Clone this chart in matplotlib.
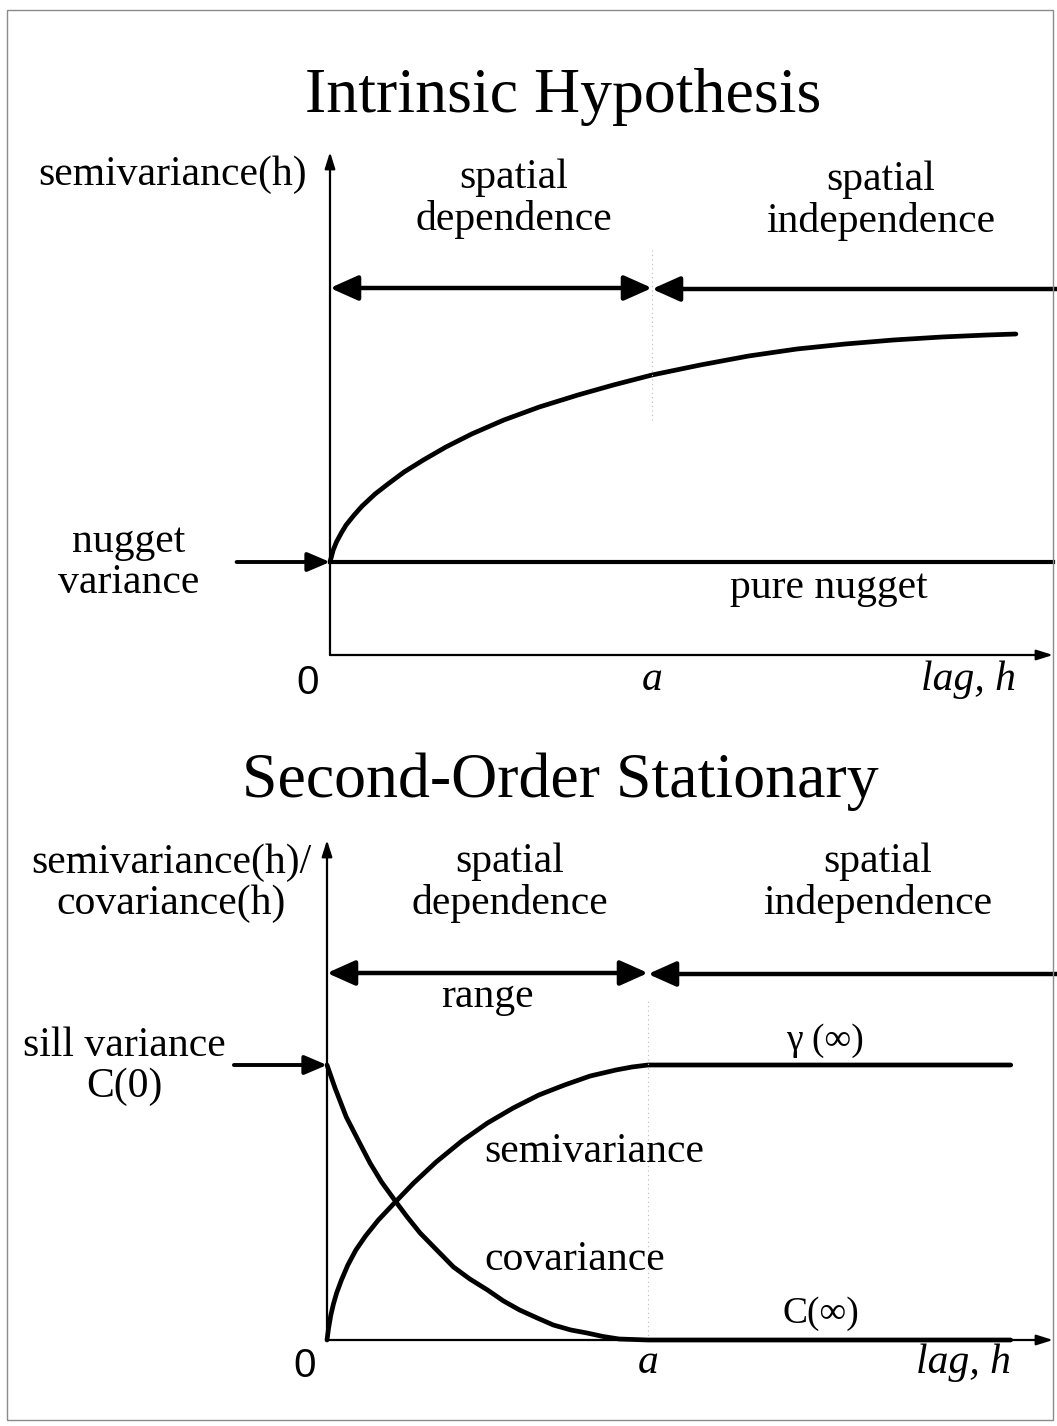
import matplotlib.pyplot as plt

# lag values (in units of the range a) and semivariance / covariance
a = 1.0
h_intrinsic = [0.0, 0.01, 0.02, 0.035, 0.05, 0.075, 0.10, 0.14, 0.18, 0.23, 0.29, 0.36,
               0.44, 0.54, 0.65, 0.77, 0.88, 1.0, 1.15, 1.30, 1.45, 1.60, 1.75, 1.90,
               2.04, 2.13]
g_intrinsic = [0.93, 1.05, 1.13, 1.22, 1.30, 1.40, 1.49, 1.61, 1.71, 1.83, 1.95, 2.08,
               2.21, 2.35, 2.48, 2.60, 2.70, 2.80, 2.90, 2.99, 3.06, 3.11, 3.15, 3.18,
               3.20, 3.21]
nugget = 0.93

h_semi = [0.0, 0.005, 0.012, 0.02, 0.03, 0.045, 0.065, 0.09, 0.12, 0.16, 0.21, 0.27,
          0.34, 0.42, 0.50, 0.58, 0.66, 0.74, 0.82, 0.90, 0.95, 1.0, 2.13]
g_semi = [0.0, 0.12, 0.25, 0.36, 0.47, 0.60, 0.75, 0.90, 1.04, 1.20, 1.37, 1.57,
          1.78, 1.99, 2.17, 2.32, 2.45, 2.55, 2.64, 2.70, 2.73, 2.75, 2.75]
h_cov = [0.0, 0.025, 0.06, 0.10, 0.134, 0.17, 0.215, 0.25, 0.29, 0.345, 0.394, 0.445,
         0.50, 0.55, 0.60, 0.655, 0.705, 0.76, 0.81, 0.86, 0.91, 1.0, 2.13]
c_cov = [2.75, 2.52, 2.23, 1.98, 1.77, 1.58, 1.38, 1.23, 1.07, 0.89, 0.73, 0.61,
         0.50, 0.39, 0.30, 0.22, 0.15, 0.10, 0.07, 0.035, 0.01, 0.0, 0.0]
sill = 2.75

W, H = 1057, 1426
serif = 'Liberation Serif'
sans = 'Liberation Sans'
fs = 30

fig = plt.figure(figsize=(W / 100, H / 100), dpi=100)


def box(left, right, bottom, top):
    return [left / W, 1 - bottom / H, (right - left) / W, (bottom - top) / H]


ax1 = fig.add_axes(box(330, 1053, 655, 152))
ax1.set_xlim(0, 723 / 322)
ax1.set_ylim(0, 5.03)
ax2 = fig.add_axes(box(327, 1053, 1340, 840))
ax2.set_xlim(0, 726 / 321)
ax2.set_ylim(0, 5.0)

big = dict(arrowstyle='<|-|>,head_length=0.85,head_width=0.38', lw=3.2, color='k',
           shrinkA=0, shrinkB=0, mutation_scale=20)
one = dict(big, arrowstyle='-|>,head_length=0.85,head_width=0.38')
side = dict(one, lw=2.8, arrowstyle='-|>,head_length=0.75,head_width=0.32', mutation_scale=18)
thin = dict(arrowstyle='-|>,head_length=0.7,head_width=0.22', lw=1.6, color='k',
            shrinkA=0, shrinkB=0, mutation_scale=14)
curve = dict(color='k', lw=3.4, solid_capstyle='round', solid_joinstyle='round', clip_on=False)

for ax in (ax1, ax2):
    ax.axis('off')
    x1, y1 = ax.get_xlim()[1], ax.get_ylim()[1]
    # axes with arrow tips
    ax.annotate('', xy=(0, y1), xytext=(0, 0), arrowprops=thin, annotation_clip=False)
    ax.annotate('', xy=(x1, 0), xytext=(0, 0), arrowprops=thin, annotation_clip=False)

# ---- Intrinsic hypothesis ----
ax1.plot(h_intrinsic, g_intrinsic, **curve)
ax1.plot([0, ax1.get_xlim()[1]], [nugget, nugget], color='k', lw=3.0, clip_on=False)
ax1.plot([a, a], [2.35, 4.05], color='#bbbbbb', lw=0.8, ls=(0, (1, 3)))
ax1.annotate('', xy=(a, 3.67), xytext=(0, 3.67), arrowprops=big, annotation_clip=False)
ax1.annotate('', xy=(a, 3.66), xytext=(2.3, 3.66), arrowprops=one, annotation_clip=False)
ax1.annotate('', xy=(0, nugget), xytext=(-0.29, nugget), arrowprops=side, annotation_clip=False)

ax1.text(-0.49, 4.80, 'semivariance(h)', family=serif, fontsize=fs, ha='center', va='center')
ax1.text(0.57, 4.56, 'spatial\ndependence', family=serif, fontsize=fs, ha='center',
         va='center', linespacing=1.1)
ax1.text(1.71, 4.54, 'spatial\nindependence', family=serif, fontsize=fs, ha='center',
         va='center', linespacing=1.1)
ax1.text(-0.625, nugget, 'nugget\nvariance', family=serif, fontsize=fs, ha='center',
         va='center', linespacing=1.1)
ax1.text(1.55, nugget - 0.26, 'pure nugget', family=serif, fontsize=fs, ha='center',
         va='center')
ax1.text(-0.07, -0.28, '0', family=sans, fontsize=29, ha='center', va='center')
ax1.text(a, -0.25, 'a', family=serif, style='italic', fontsize=fs, ha='center', va='center')
ax1.text(2.13, -0.25, 'lag, h', family=serif, style='italic', fontsize=fs, ha='right',
         va='center')

# ---- Second-order stationary ----
ax2.plot(h_semi, g_semi, **curve)
ax2.plot(h_cov, c_cov, **curve)
ax2.plot([a, a], [0, 3.4], color='#bbbbbb', lw=0.8, ls=(0, (1, 3)))
ax2.annotate('', xy=(a, 3.67), xytext=(0, 3.67), arrowprops=big, annotation_clip=False)
ax2.annotate('', xy=(a, 3.66), xytext=(2.3, 3.66), arrowprops=one, annotation_clip=False)
ax2.annotate('', xy=(0, sill), xytext=(-0.29, sill), arrowprops=side, annotation_clip=False)

ax2.text(-0.485, 4.57, 'semivariance(h)/\ncovariance(h)', family=serif, fontsize=fs,
         ha='center', va='center', linespacing=1.1)
ax2.text(0.57, 4.57, 'spatial\ndependence', family=serif, fontsize=fs, ha='center',
         va='center', linespacing=1.1)
ax2.text(1.715, 4.57, 'spatial\nindependence', family=serif, fontsize=fs, ha='center',
         va='center', linespacing=1.1)
ax2.text(0.50, 3.43, 'range', family=serif, fontsize=fs, ha='center', va='center')
ax2.text(-0.63, sill - 0.01, 'sill variance\nC(0)', family=serif, fontsize=fs, ha='center',
         va='center', linespacing=1.1)
ax2.text(1.55, sill + 0.24, 'γ (∞)', family=serif, fontsize=27, ha='center', va='center')
ax2.text(0.49, 1.88, 'semivariance', family=serif, fontsize=fs, ha='left', va='center')
ax2.text(0.49, 0.80, 'covariance', family=serif, fontsize=fs, ha='left', va='center')
ax2.text(1.54, 0.26, 'C(∞)', family=serif, fontsize=27, ha='center', va='center')
ax2.text(-0.07, -0.26, '0', family=sans, fontsize=29, ha='center', va='center')
ax2.text(a, -0.23, 'a', family=serif, style='italic', fontsize=fs, ha='center', va='center')
ax2.text(2.13, -0.23, 'lag, h', family=serif, style='italic', fontsize=fs, ha='right',
         va='center')

fig.text(563 / W, 1 - 97 / H, 'Intrinsic Hypothesis', family=serif, fontsize=46,
         ha='center', va='center')
fig.text(560 / W, 1 - 782 / H, 'Second-Order Stationary', family=serif, fontsize=46,
         ha='center', va='center')

# page frame
fig.patches.append(plt.Rectangle((7 / W, 1 - 1420 / H), 1046 / W, 1410 / H,
                                 transform=fig.transFigure, fill=False,
                                 edgecolor='#8a8a8a', lw=1.0))

fig.savefig('out.png', dpi=100, facecolor='white')
